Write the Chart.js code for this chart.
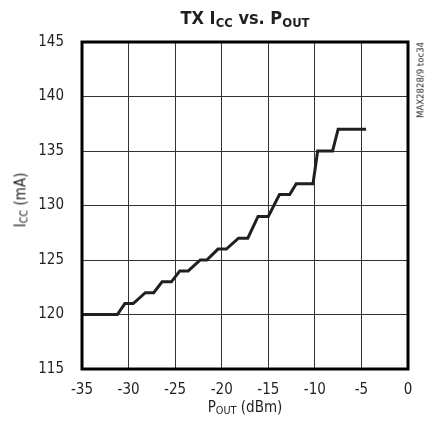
<!DOCTYPE html>
<html>
<head>
<meta charset="UTF-8">
<title>TX ICC vs. POUT</title>
<script src="https://cdn.jsdelivr.net/npm/chart.js"></script>
<style>
    body {
        margin: 0;
        background: #fff;
        font-family: 'Liberation Sans Narrow', 'DejaVu Sans Condensed', sans-serif;
    }
    .wrap {
        position: relative;
        width: 427px;
        height: 430px;
    }
    .lbl {
        position: absolute;
        color: #231f20;
        white-space: nowrap;
    }
    .title {
        left: 82px;
        width: 326px;
        top: 7px;
        text-align: center;
        font-weight: bold;
        font-size: 18px;
    }
    .title sub, .axt sub {
        font-size: 0.72em;
        vertical-align: -0.2em;
    }
    .axt {
        font-size: 15px;
    }
    .xt {
        left: 82px;
        width: 326px;
        top: 398px;
        text-align: center;
    }
    .yt {
        left: 21px;
        top: 200px;
        transform: translate(-50%, -50%) rotate(-90deg);
    }
    .note {
        left: 420px;
        top: 80px;
        font-size: 9.5px;
        transform: translate(-50%, -50%) rotate(-90deg);
    }
</style>
</head>
<body>
<div class="wrap">
    <canvas id="c" width="427" height="430"></canvas>
    <div class="lbl title">TX I<sub>CC</sub> vs. P<sub>OUT</sub></div>
    <div class="lbl axt xt">P<sub>OUT</sub> (dBm)</div>
    <div class="lbl axt yt">I<sub>CC</sub> (mA)</div>
    <div class="lbl note">MAX2828/9 toc34</div>
</div>

<script>
    // staircase (dBm, mA)
    const pout = [-35, -31.2, -30.4, -29.5, -28.2, -27.3, -26.4, -25.4, -24.5, -23.6,
                  -22.3, -21.6, -20.4, -19.5, -18.2, -17.2, -16.1, -15.0, -13.8, -12.7,
                  -12.0, -10.2, -9.7, -8.1, -7.5, -4.5];
    const icc = [120, 120, 121, 121, 122, 122, 123, 123, 124, 124,
                 125, 125, 126, 126, 127, 127, 129, 129, 131, 131,
                 132, 132, 135, 135, 137, 137];
    const xTicks = [-35, -30, -25, -20, -15, -10, -5, 0];
    const yTicks = [115, 120, 125, 130, 135, 140, 145];

    const ink = '#231f20';
    const tickFont = { family: "'Liberation Sans Narrow', 'DejaVu Sans Condensed', sans-serif", size: 15 };

    const frame = {
        id: 'frame',
        afterDraw(chart) {
            const a = chart.chartArea, c = chart.ctx;
            c.save();
            c.strokeStyle = '#000';
            c.lineWidth = 3;
            c.strokeRect(a.left, a.top, a.right - a.left, a.bottom - a.top);
            c.restore();
        }
    };

    new Chart(document.getElementById('c'), {
        type: 'line',
        data: {
            datasets: [{
                data: pout.map((x, i) => ({ x: x, y: icc[i] })),
                borderColor: ink,
                borderWidth: 3,
                pointRadius: 0,
                tension: 0,
                fill: false
            }]
        },
        options: {
            responsive: false,
            animation: false,
            layout: { padding: { top: 42, right: 19, left: 0, bottom: 0 } },
            plugins: { legend: { display: false }, tooltip: { enabled: false } },
            scales: {
                x: {
                    type: 'linear',
                    min: -35, max: 0,
                    afterBuildTicks: s => { s.ticks = xTicks.map(v => ({ value: v })); },
                    afterFit: s => { s.height = 61; },
                    grid: { color: '#333', lineWidth: 1, drawTicks: false },
                    border: { display: false },
                    ticks: { color: ink, font: tickFont, padding: 12, maxRotation: 0 }
                },
                y: {
                    min: 115, max: 145,
                    afterBuildTicks: s => { s.ticks = yTicks.map(v => ({ value: v })); },
                    afterFit: s => { s.width = 82; },
                    grid: { color: '#333', lineWidth: 1, drawTicks: false },
                    border: { display: false },
                    ticks: { color: ink, font: tickFont, padding: 18 }
                }
            }
        },
        plugins: [frame]
    });
</script>
</body>
</html>
